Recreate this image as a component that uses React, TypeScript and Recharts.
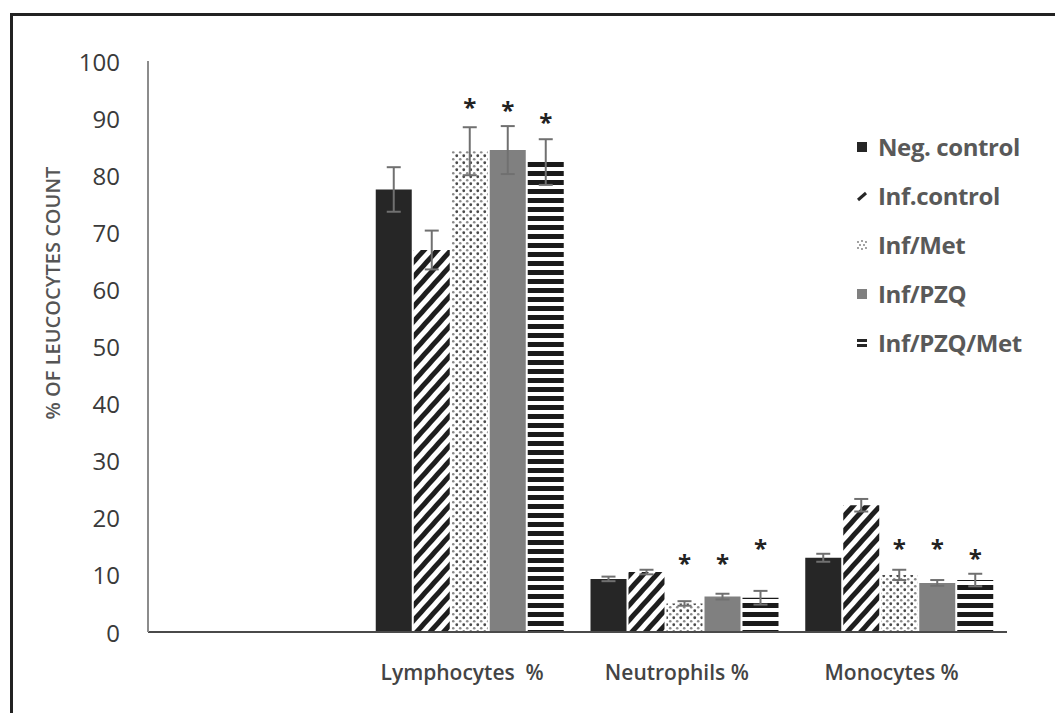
import React from 'react';
import { BarChart, Bar, XAxis, YAxis, ErrorBar, LabelList } from 'recharts';

const categories = ['', 'Lymphocytes  %', 'Neutrophils %', 'Monocytes %'];
const negControl = [null, 77.5, 9.3, 13.0];
const negControlErr = [null, 3.9, 0.4, 0.7];
const infControl = [null, 66.9, 10.5, 22.2];
const infControlErr = [null, 3.4, 0.4, 1.1];
const infMet = [null, 84.2, 5.0, 10.0];
const infMetErr = [null, 4.2, 0.4, 0.9];
const infPzq = [null, 84.4, 6.2, 8.6];
const infPzqErr = [null, 4.2, 0.5, 0.5];
const infPzqMet = [null, 82.3, 6.0, 9.1];
const infPzqMetErr = [null, 4.0, 1.2, 1.1];
const infMetStar = [null, 92.8, 13.0, 15.6];
const infPzqStar = [null, 92.3, 13.0, 15.6];
const infPzqMetStar = [null, 90.2, 15.6, 13.8];
const yTicks = [0, 10, 20, 30, 40, 50, 60, 70, 80, 90, 100];

const seriesNames = ['Neg. control', 'Inf.control', 'Inf/Met', 'Inf/PZQ', 'Inf/PZQ/Met'];

const data = categories.map((c, i) => ({
  name: c,
  neg: negControl[i],
  negErr: negControlErr[i],
  inf: infControl[i],
  infErr: infControlErr[i],
  met: infMet[i],
  metErr: infMetErr[i],
  metStar: infMetStar[i],
  pzq: infPzq[i],
  pzqErr: infPzqErr[i],
  pzqStar: infPzqStar[i],
  pzqMet: infPzqMet[i],
  pzqMetErr: infPzqMetErr[i],
  pzqMetStar: infPzqMetStar[i],
}));

const FONT = '"Open Sans", "Liberation Sans", sans-serif';

const starKey = (starField: string, valueField: string) => (d: any) =>
  d[starField] == null || d[valueField] == null ? null : [d[starField], d[valueField]];

const renderStar = (props: any) => {
  const { x, y, width, height, value } = props;
  if (!Array.isArray(value) || !height) return null;
  const [star, v] = value;
  const pxPerUnit = height / v;
  const sy = y + height - star * pxPerUnit;
  return (
    <text
      x={x + width / 2}
      y={sy + 14}
      textAnchor="middle"
      fontSize={24}
      fontWeight={700}
      fontFamily={FONT}
      fill="#222"
    >
      *
    </text>
  );
};

const Swatch = ({ i }: { i: number }) => {
  const s = 14;
  return (
    <svg width={s} height={s} style={{ display: 'block' }}>
      {i === 0 && <rect x={2} y={2} width={10} height={10} fill="#262626" />}
      {i === 1 && <line x1={3} y1={11} x2={11} y2={4} stroke="#262626" strokeWidth={3} />}
      {i === 2 && (
        <g fill="#777">
          <circle cx={3} cy={4} r={0.9} />
          <circle cx={7} cy={3} r={0.9} />
          <circle cx={11} cy={4} r={0.9} />
          <circle cx={5} cy={7} r={0.9} />
          <circle cx={9} cy={7} r={0.9} />
          <circle cx={3} cy={10} r={0.9} />
          <circle cx={7} cy={11} r={0.9} />
          <circle cx={11} cy={10} r={0.9} />
        </g>
      )}
      {i === 3 && <rect x={2} y={2} width={10} height={10} fill="#808080" />}
      {i === 4 && (
        <g fill="#262626">
          <rect x={2} y={3} width={10} height={3} />
          <rect x={2} y={8} width={10} height={3} />
        </g>
      )}
    </svg>
  );
};

const ChartLegend = () => (
  <div style={{ position: 'absolute', left: 855, top: 122, fontFamily: FONT }}>
    {seriesNames.map((n, i) => (
      <div key={n} style={{ display: 'flex', alignItems: 'center', height: 49 }}>
        <Swatch i={i} />
        <span style={{ marginLeft: 9, fontSize: 24, fontWeight: 700, color: '#595959', letterSpacing: -0.4 }}>{n}</span>
      </div>
    ))}
  </div>
);

const XTick = (props: any) => {
  const { x, y, payload } = props;
  return (
    <text
      x={x - 8}
      y={y + 40}
      textAnchor="middle"
      dominantBaseline="central"
      fontSize={21}
      fontWeight={600}
      fontFamily={FONT}
      fill="#444"
      style={{ whiteSpace: 'pre' }}
    >
      {payload.value}
    </text>
  );
};

const YTick = (props: any) => {
  const { x, y, payload } = props;
  return (
    <text
      x={x}
      y={y}
      textAnchor="end"
      dominantBaseline="central"
      fontSize={24}
      fontFamily={FONT}
      fill="#3a3a3a"
    >
      {payload.value}
    </text>
  );
};

const YLabel = () => {
  const cx = 52;
  const cy = 293;
  return (
    <text
      x={cx}
      y={cy}
      transform={`rotate(-90 ${cx} ${cy})`}
      textAnchor="middle"
      dominantBaseline="central"
      fontSize={20}
      fontWeight={600}
      fontFamily={FONT}
      fill="#555"
    >
      % OF LEUCOCYTES COUNT
    </text>
  );
};

export default function App() {
  return (
    <div style={{ position: 'absolute', left: 0, top: 0, width: 1055, height: 713, background: '#fff', overflow: 'hidden' }}>
      <div
        style={{
          position: 'absolute',
          left: 10,
          top: 13,
          width: 1060,
          height: 720,
          borderTop: '3px solid #222',
          borderLeft: '3px solid #222',
        }}
      />
      <div style={{ position: 'absolute', left: 0, top: 0 }}>
        <BarChart
          width={1055}
          height={713}
          data={data}
          margin={{ top: 61, right: 48, bottom: 0, left: 0 }}
          barSize={36}
          barGap={2}
        >
          <defs>
            <pattern id="diag" patternUnits="userSpaceOnUse" width={10} height={10} patternTransform="rotate(42)">
              <rect x={0} y={0} width={10} height={10} fill="#fff" />
              <rect x={0} y={0} width={5} height={10} fill="#1e1e1e" />
            </pattern>
            <pattern id="dots" patternUnits="userSpaceOnUse" width={7} height={7}>
              <rect x={0} y={0} width={7} height={7} fill="#fff" />
              <circle cx={1.75} cy={1.75} r={1.4} fill="#4a4a4a" />
              <circle cx={5.25} cy={5.25} r={1.3} fill="#8a8a8a" />
            </pattern>
            <pattern id="hstripe" patternUnits="userSpaceOnUse" width={9} height={9}>
              <rect x={0} y={0} width={9} height={9} fill="#fff" />
              <rect x={0} y={0} width={9} height={5} fill="#1a1a1a" />
            </pattern>
          </defs>
          <XAxis
            dataKey="name"
            height={81}
            tickLine={false}
            tickSize={0}
            tickMargin={0}
            axisLine={{ stroke: '#4a4a4a', strokeWidth: 2 }}
            tick={<XTick />}
            interval={0}
          />
          <YAxis
            width={148}
            domain={[0, 100]}
            ticks={yTicks}
            tickLine={false}
            tickSize={0}
            tickMargin={28}
            axisLine={{ stroke: '#8c8c8c', strokeWidth: 2 }}
            tick={<YTick />}
            interval={0}
            label={<YLabel />}
          />
          <Bar dataKey="neg" name={seriesNames[0]} fill="#262626" isAnimationActive={false}>
            <ErrorBar dataKey="negErr" width={7} stroke="#707070" strokeWidth={2} />
          </Bar>
          <Bar dataKey="inf" name={seriesNames[1]} fill="url(#diag)" isAnimationActive={false}>
            <ErrorBar dataKey="infErr" width={7} stroke="#707070" strokeWidth={2} />
          </Bar>
          <Bar dataKey="met" name={seriesNames[2]} fill="url(#dots)" isAnimationActive={false}>
            <ErrorBar dataKey="metErr" width={7} stroke="#707070" strokeWidth={2} />
            <LabelList dataKey={starKey('metStar', 'met')} content={renderStar} />
          </Bar>
          <Bar dataKey="pzq" name={seriesNames[3]} fill="#808080" isAnimationActive={false}>
            <ErrorBar dataKey="pzqErr" width={7} stroke="#707070" strokeWidth={2} />
            <LabelList dataKey={starKey('pzqStar', 'pzq')} content={renderStar} />
          </Bar>
          <Bar dataKey="pzqMet" name={seriesNames[4]} fill="url(#hstripe)" isAnimationActive={false}>
            <ErrorBar dataKey="pzqMetErr" width={7} stroke="#707070" strokeWidth={2} />
            <LabelList dataKey={starKey('pzqMetStar', 'pzqMet')} content={renderStar} />
          </Bar>
        </BarChart>
      </div>
      <ChartLegend />
    </div>
  );
}
